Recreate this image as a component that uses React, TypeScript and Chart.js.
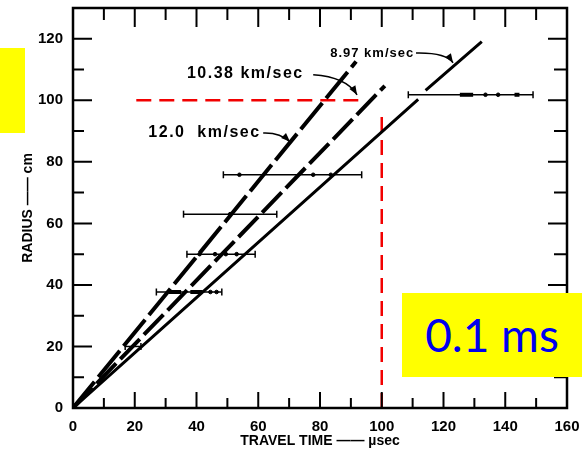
import React, { useEffect, useRef } from 'react';
import { Chart, registerables } from 'chart.js';

Chart.register(...registerables);

// ---- data (travel time in µsec, radius in cm) ----
const X_MAX = 160;
const Y_MAX = 130;
const X_STEP = 20;
const Y_STEP = 20;

const line120 = [{ x: 0, y: 0 }, { x: 91.7, y: 112.6 }];
const line1038 = [{ x: 0, y: 0 }, { x: 101, y: 104.7 }];
const line897 = [
  { x: 0, y: 0 },
  { x: 111.8, y: 100.3 },
  { x: 113, y: null },
  { x: 114.2, y: 103.2 },
  { x: 132.4, y: 119.1 },
];

// error bars (horizontal)
const errR = [20, 37.7, 50, 63, 75.8, 101.8];
const errLo = [16.9, 27, 36.9, 35.8, 48.7, 108.6];
const errHi = [22, 48.2, 59, 66, 93.5, 149];

// thick parts of the error bars
const segR = [37.7, 37.7, 101.8, 101.8];
const segLo = [31, 38, 125.3, 143];
const segHi = [35, 42, 129.6, 144.6];

// dots on the error bars
const dotT = [44.5, 46.5, 41, 46, 49.5, 53, 50.9, 53.9, 77.8, 83.5, 133.6, 137.7];
const dotR = [37.7, 37.7, 50, 50, 50, 50, 63, 75.8, 75.8, 75.8, 101.8, 101.8];

// red reference lines
const redH = [{ x: 20.5, y: 100 }, { x: 94, y: 100 }];
const redV = [{ x: 100, y: 0 }, { x: 100, y: 95 }];

// velocity labels with arrows
const velLabels = ['10.38 km/sec', '12.0  km/sec', '8.97 km/sec'];

const annotations = [
  { text: velLabels[0], x: 36.9, y: 108.6, size: 16, spacing: 1.5, from: [77.8, 108.3], ctrl: [88.5, 107.6], to: [92, 101.8] },
  { text: velLabels[1], x: 24.4, y: 89.4, size: 16, spacing: 1.5, from: [61.6, 89.4], ctrl: [67.1, 89.6], to: [70.3, 86.5] },
  { text: velLabels[2], x: 83.3, y: 115.4, size: 13, spacing: 1, from: [111.1, 115.4], ctrl: [120.8, 115.6], to: [123.1, 112.2] },
];

const BLACK = '#000';
const RED = '#f20000';

const framePlugin = {
  id: 'frameTicks',
  afterDraw(chart: any) {
    const { ctx, chartArea: a, scales } = chart;
    const xs = scales.x;
    const ys = scales.y;
    ctx.save();
    ctx.strokeStyle = BLACK;
    ctx.lineWidth = 2.5;
    ctx.strokeRect(a.left, a.top, a.right - a.left, a.bottom - a.top);
    ctx.lineWidth = 2;
    ctx.beginPath();
    for (let v = 10; v < X_MAX; v += 10) {
      const px = xs.getPixelForValue(v);
      const major = v % 20 === 0;
      ctx.moveTo(px, a.bottom);
      ctx.lineTo(px, a.bottom - (major ? 16 : 10));
      ctx.moveTo(px, a.top);
      ctx.lineTo(px, a.top + (major ? 19 : 12));
    }
    for (let v = 10; v < Y_MAX; v += 10) {
      const py = ys.getPixelForValue(v);
      const major = v % 20 === 0;
      ctx.moveTo(a.left, py);
      ctx.lineTo(a.left + (major ? 19 : 11), py);
      ctx.moveTo(a.right, py);
      ctx.lineTo(a.right - (major ? 19 : 13), py);
    }
    ctx.stroke();

    // labels and arrows
    for (const an of annotations) {
      ctx.fillStyle = BLACK;
      ctx.font = `bold ${an.size}px "Liberation Sans", Arial, sans-serif`;
      (ctx as any).letterSpacing = `${an.spacing}px`;
      ctx.textAlign = 'left';
      ctx.textBaseline = 'middle';
      ctx.fillText(an.text, xs.getPixelForValue(an.x), ys.getPixelForValue(an.y));
      (ctx as any).letterSpacing = '0px';
      const fx = xs.getPixelForValue(an.from[0]);
      const fy = ys.getPixelForValue(an.from[1]);
      const cx = xs.getPixelForValue(an.ctrl[0]);
      const cy = ys.getPixelForValue(an.ctrl[1]);
      const tx = xs.getPixelForValue(an.to[0]);
      const ty = ys.getPixelForValue(an.to[1]);
      ctx.lineWidth = 1.5;
      ctx.beginPath();
      ctx.moveTo(fx, fy);
      ctx.quadraticCurveTo(cx, cy, tx, ty);
      ctx.stroke();
      const ang = Math.atan2(ty - cy, tx - cx);
      const L = 9;
      const W = 3.5;
      ctx.beginPath();
      ctx.moveTo(tx, ty);
      ctx.lineTo(tx - L * Math.cos(ang) + W * Math.sin(ang), ty - L * Math.sin(ang) - W * Math.cos(ang));
      ctx.lineTo(tx - L * Math.cos(ang) - W * Math.sin(ang), ty - L * Math.sin(ang) + W * Math.cos(ang));
      ctx.closePath();
      ctx.fill();
    }
    ctx.restore();
  },
};

const zeroPad = (s: any) => {
  s.paddingTop = 0;
  s.paddingBottom = 0;
  s.paddingLeft = 0;
  s.paddingRight = 0;
};

export default function App() {
  const ref = useRef<HTMLCanvasElement>(null);

  useEffect(() => {
    if (!ref.current) return;
    const datasets: any[] = [];
    const lineDs = (data: any, width: number, dash: number[] = [], color = BLACK) => ({
      type: 'line',
      data,
      borderColor: color,
      backgroundColor: color,
      borderWidth: width,
      borderDash: dash,
      borderCapStyle: 'butt',
      pointRadius: 0,
      fill: false,
      spanGaps: false,
    });
    datasets.push(lineDs(line120, 4, [34, 6]));
    datasets.push(lineDs(line1038, 4, [28, 6]));
    datasets.push(lineDs(line897, 3));
    datasets.push(lineDs(redH, 2.5, [15, 8], RED));
    datasets.push(lineDs(redV, 2.5, [15, 8], RED));
    for (let i = 0; i < errR.length; i++) {
      datasets.push({
        ...lineDs([{ x: errLo[i], y: errR[i] }, { x: errHi[i], y: errR[i] }], 1.5),
        pointStyle: 'line',
        pointRotation: 90,
        pointRadius: 3.5,
        pointBorderWidth: 1.5,
        pointBorderColor: BLACK,
      });
    }
    for (let i = 0; i < segR.length; i++) {
      datasets.push(lineDs([{ x: segLo[i], y: segR[i] }, { x: segHi[i], y: segR[i] }], 4));
    }
    datasets.push({
      type: 'scatter',
      data: dotT.map((t, i) => ({ x: t, y: dotR[i] })),
      backgroundColor: BLACK,
      borderColor: BLACK,
      pointRadius: 1.8,
    });

    const tickFont = { family: '"Liberation Sans", Arial, sans-serif', size: 15, weight: 'bold' };
    const titleFont = { family: '"Liberation Sans", Arial, sans-serif', size: 14, weight: 'bold' };

    const chart = new Chart(ref.current, {
      type: 'line',
      data: { datasets },
      options: {
        animation: false,
        responsive: false,
        events: [],
        layout: { padding: { left: 0, top: 8, right: 15, bottom: 0 } },
        plugins: { legend: { display: false }, tooltip: { enabled: false } },
        scales: {
          x: {
            type: 'linear',
            min: 0,
            max: X_MAX,
            grid: { display: false },
            border: { display: false },
            ticks: { stepSize: X_STEP, padding: 2, color: BLACK, font: tickFont, maxRotation: 0, autoSkip: false },
            title: { display: true, text: 'TRAVEL TIME —— µsec', color: BLACK, font: titleFont, padding: { top: 0, bottom: 0 } },
            afterFit: (s: any) => { s.height = 42; zeroPad(s); },
          },
          y: {
            type: 'linear',
            min: 0,
            max: Y_MAX,
            grid: { display: false },
            border: { display: false },
            ticks: { stepSize: Y_STEP, padding: 2, color: BLACK, font: tickFont },
            afterBuildTicks: (s: any) => { s.ticks = s.ticks.filter((t: any) => t.value % Y_STEP === 0); },
            title: { display: true, text: 'RADIUS —— cm', color: BLACK, font: titleFont, padding: { top: 20, bottom: 0 } },
            afterFit: (s: any) => { s.width = 73; zeroPad(s); },
          },
        },
      } as any,
      plugins: [framePlugin],
    });
    return () => chart.destroy();
  }, []);

  return (
    <div style={{ position: 'fixed', left: 0, top: 0, width: 582, height: 450, background: '#fff', overflow: 'hidden' }}>
      <canvas ref={ref} width={582} height={450} style={{ position: 'absolute', left: 0, top: 0 }} />
      <div style={{ position: 'absolute', left: 0, top: 48, width: 25, height: 85, background: '#ffff00' }} />
      <div style={{ position: 'absolute', left: 402, top: 293, width: 180, height: 84, background: '#ffff00' }}>
        <div
          style={{
            position: 'absolute',
            left: 0,
            top: 19,
            width: 180,
            textAlign: 'center',
            fontFamily: 'Lato, "Open Sans", sans-serif',
            fontSize: 46,
            lineHeight: '46px',
            color: '#0000ee',
            whiteSpace: 'pre',
          }}
        >
          0.1 ms
        </div>
      </div>
    </div>
  );
}
